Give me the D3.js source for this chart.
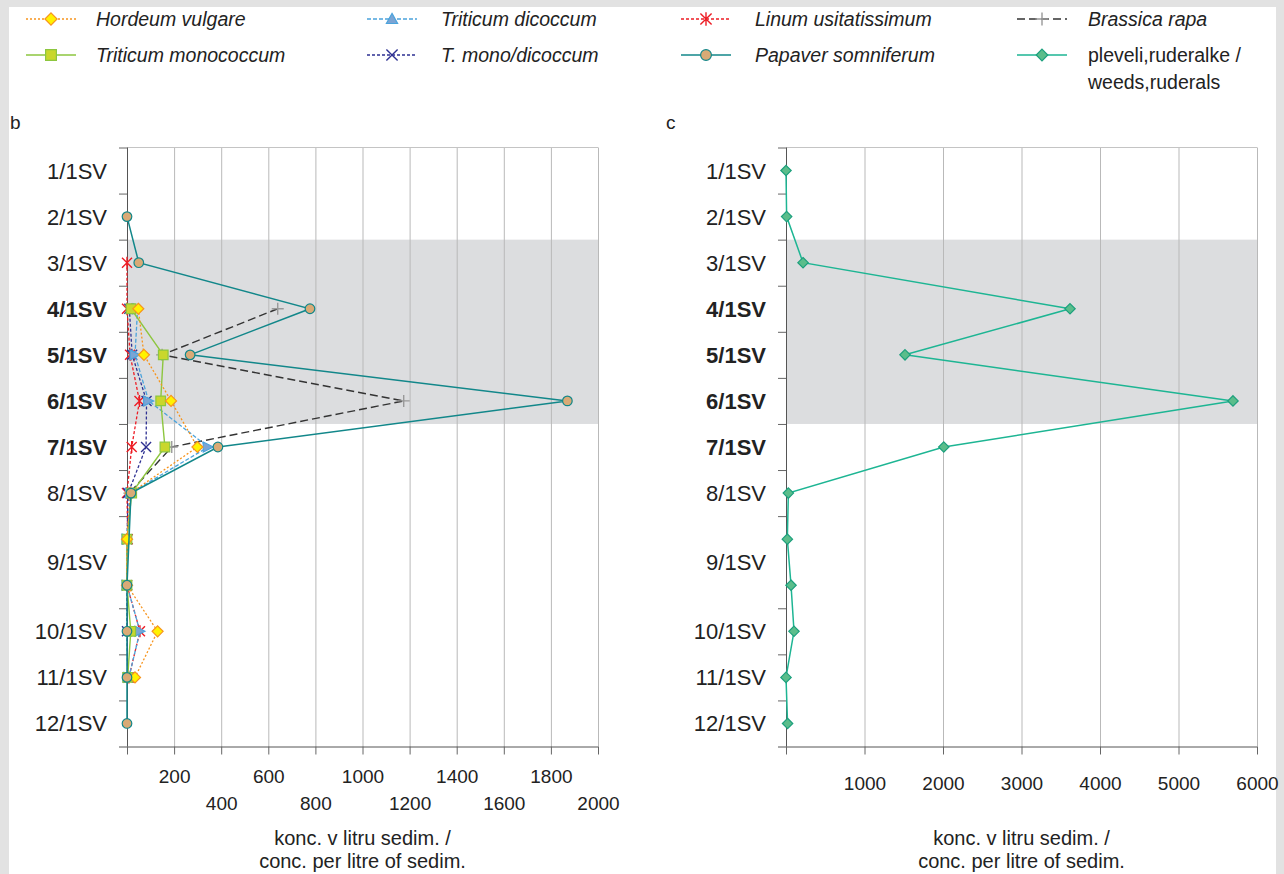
<!DOCTYPE html>
<html>
<head>
<meta charset="utf-8">
<script src="https://cdn.jsdelivr.net/npm/d3@7"></script>
<style>
  body { margin: 0; background: #e2e2e2; }
  svg { display: block; font-family: "Liberation Sans", Arial, sans-serif; }
</style>
</head>
<body>
<svg id="chart" width="1284" height="874"></svg>
<script>
// samples (top to bottom); 9/1SV was taken as two sub-samples
const samples = ["1/1SV", "2/1SV", "3/1SV", "4/1SV", "5/1SV", "6/1SV", "7/1SV", "8/1SV", "9/1SV", "10/1SV", "11/1SV", "12/1SV"];
const subSamples = [1, 1, 1, 1, 1, 1, 1, 1, 2, 1, 1, 1];
const boldSamples = ["4/1SV", "5/1SV", "6/1SV", "7/1SV"];
const shadedSamples = ["3/1SV", "6/1SV"]; // first and last of the grey band

// values per sub-sample row (13 rows), null = no value
const hordeum    = [null, null, null,  48,  72,  187, 299, 15,    0, 0, 130, 34, null];
const monococcum = [null, null, null,  17, 154,  143, 161, 20,    0, 0,  16,  3, null];
const dicoccum   = [null, null, null,  45,  34,   92, 345, 15,    0, 0,  55,  8, null];
const monoDic    = [null, null, null,  10,  22,   83,  81,  5,    0, 0,   0,  3, null];
const linum      = [null, null,    0,   0,  13,   53,  20,  0,    3, 0,  55,  8, null];
const papaver    = [null,    0,   50, 777, 268, 1870, 386, 17, null, 0,   0,  0,    0];
const brassica   = [null, null, null, 640, 149, 1175, 190, 10, null, null, null, null, null];
const weeds      = [0, 8, 217, 3618, 1516, 5694, 2010, 30, 17, 64, 102, 0, 20];

const leftTicks = [0, 200, 400, 600, 800, 1000, 1200, 1400, 1600, 1800, 2000];
const rightTicks = [0, 1000, 2000, 3000, 4000, 5000, 6000];

const seriesNames = {
  hordeum: "Hordeum vulgare",
  monococcum: "Triticum monococcum",
  dicoccum: "Triticum dicoccum",
  monoDic: "T. mono/dicoccum",
  linum: "Linum usitatissimum",
  papaver: "Papaver somniferum",
  brassica: "Brassica rapa",
  weeds: "pleveli,ruderalke /|weeds,ruderals"
};

const styles = {
  hordeum:    { line: "#f7941d", width: 1.3, dash: "2,2", marker: "diamond", legendMarker: "diamond", size: 5.5, fill: "#fff200", stroke: "#f7941d" },
  monococcum: { line: "#8dc63f", width: 1.4, dash: null,  marker: "square",  legendMarker: "square",  size: 4.8, fill: "#c9d72c", stroke: "#8dc63f" },
  dicoccum:   { line: "#4ba3dc", width: 1.3, dash: "4,2", marker: "triRight", legendMarker: "triUp", size: 5, fill: "#7ba4d4", stroke: "#4ba3dc" },
  monoDic:    { line: "#2e3192", width: 1.3, dash: "3,2", marker: "cross",   legendMarker: "cross",   size: 5, fill: "none", stroke: "#2e3192" },
  linum:      { line: "#ed1c24", width: 1.3, dash: "3,2", marker: "star",    legendMarker: "star",    size: 5, fill: "none", stroke: "#ed1c24" },
  papaver:    { line: "#12878a", width: 1.5, dash: null,  marker: "circle",  legendMarker: "circle",  size: 4.8, fill: "#d9aa76", stroke: "#12878a" },
  brassica:   { line: "#333333", width: 1.4, dash: "8,4", marker: "plus",    legendMarker: "plus",    size: 6, fill: "none", stroke: "#999999" },
  weeds:      { line: "#1db593", width: 1.5, dash: null,  marker: "diamond", legendMarker: "diamond", size: 5.2, fill: "#5bbd8b", stroke: "#1ca07d" }
};

const seriesData = { hordeum, monococcum, dicoccum, monoDic, linum, papaver, brassica, weeds };
const leftOrder = ["brassica", "linum", "monoDic", "dicoccum", "monococcum", "hordeum", "papaver"];

function markerPath(type, s) {
  switch (type) {
    case "diamond": return `M0,${-s}L${s},0L0,${s}L${-s},0Z`;
    case "square": return `M${-s},${-s}H${s}V${s}H${-s}Z`;
    case "triRight": return `M${-s},${-s}L${s},0L${-s},${s}Z`;
    case "triUp": return `M0,${-s}L${s},${s * 0.8}L${-s},${s * 0.8}Z`;
    case "cross": return `M${-s},${-s}L${s},${s}M${s},${-s}L${-s},${s}`;
    case "star": return `M${-s},${-s}L${s},${s}M${s},${-s}L${-s},${s}M0,${-s * 1.2}V${s * 1.2}`;
    case "plus": return `M${-s},0H${s}M0,${-s}V${s}`;
    case "circle": return `M${-s},0A${s},${s} 0 1,0 ${s},0A${s},${s} 0 1,0 ${-s},0Z`;
  }
}

const svg = d3.select("#chart");
svg.append("rect").attr("x", 9).attr("y", 7).attr("width", 1267).attr("height", 874).attr("fill", "#fff");

const plotTop = 147.5, plotBottom = 746.5;
const rowCount = d3.sum(subSamples);
const y = d3.scaleLinear().domain([-0.5, rowCount - 0.5]).range([plotTop, plotBottom]);

// sub-sample row ranges for each sample
let acc = 0;
const sampleRows = samples.map((s, i) => {
  const r = { name: s, start: acc, end: acc + subSamples[i] - 1 };
  acc += subSamples[i];
  return r;
});

function drawPanel(opts) {
  const { x, ticks, letter, letterX, twoRows, keys } = opts;
  const [x0, x1] = x.range();
  const g = svg.append("g");

  // grey band
  const a = sampleRows.find(r => r.name === shadedSamples[0]);
  const b = sampleRows.find(r => r.name === shadedSamples[1]);
  g.append("rect")
    .attr("x", x0).attr("y", y(a.start - 0.5))
    .attr("width", x1 - x0).attr("height", y(b.end + 0.5) - y(a.start - 0.5))
    .attr("fill", "#dcdddf");

  // vertical grid
  g.append("g")
    .attr("transform", `translate(0,${plotBottom})`)
    .call(d3.axisBottom(x).tickValues(ticks.slice(1)).tickSize(-(plotBottom - plotTop)).tickFormat(""))
    .call(s => s.select(".domain").remove())
    .selectAll("line").attr("stroke", "#b9b9b9");
  g.append("line").attr("x1", x0).attr("x2", x1).attr("y1", plotTop).attr("y2", plotTop).attr("stroke", "#c4c4c4");

  // x axis
  const xa = g.append("g")
    .attr("transform", `translate(0,${plotBottom})`)
    .call(d3.axisBottom(x).tickValues(ticks).tickSize(8).tickFormat(d => d === 0 ? "" : d));
  xa.select(".domain").attr("d", `M${x0 - 8},0.5H${x1}`).attr("stroke", "#555");
  xa.selectAll("line").attr("stroke", "#666");
  xa.selectAll("text")
    .attr("font-size", 19).attr("fill", "#222").attr("font-family", "Liberation Sans, Arial, sans-serif")
    .attr("dy", null)
    .attr("y", (d, i) => twoRows ? (i % 2 === 1 ? 36 : 63) : 43);

  // axis title
  const cx = (x0 + x1) / 2;
  g.append("text").attr("x", cx).attr("y", 845).attr("text-anchor", "middle")
    .attr("font-size", 20).attr("fill", "#222").text("konc. v litru sedim. /");
  g.append("text").attr("x", cx).attr("y", 868).attr("text-anchor", "middle")
    .attr("font-size", 20).attr("fill", "#222").text("conc. per litre of sedim.");

  // y axis: ticks between samples
  const bounds = [-0.5].concat(sampleRows.slice(0, -1).map(r => r.end + 0.5));
  const ya = g.append("g")
    .attr("transform", `translate(${x0},0)`)
    .call(d3.axisLeft(y).tickValues(bounds).tickSize(8).tickFormat(""));
  ya.select(".domain").attr("d", `M0.5,${plotTop}V${plotBottom}`).attr("stroke", "#555");
  ya.selectAll("line").attr("stroke", "#666");

  g.selectAll("text.ylab")
    .data(sampleRows)
    .enter().append("text")
    .attr("class", "ylab")
    .attr("x", x0 - 20)
    .attr("y", r => y((r.start + r.end) / 2) + 8)
    .attr("text-anchor", "end")
    .attr("font-size", 22)
    .attr("font-weight", r => boldSamples.includes(r.name) ? "bold" : "normal")
    .attr("fill", "#222")
    .text(r => r.name);

  g.append("text").attr("x", letterX).attr("y", 129).attr("font-size", 19).attr("fill", "#222").text(letter);

  // series
  keys.forEach(key => {
    const st = styles[key];
    const pts = seriesData[key].map((v, i) => ({ v, i })).filter(d => d.v !== null);
    const line = d3.line().x(d => x(d.v)).y(d => y(d.i));
    g.append("path").datum(pts)
      .attr("d", line)
      .attr("fill", "none")
      .attr("stroke", st.line)
      .attr("stroke-width", st.width)
      .attr("stroke-dasharray", st.dash);
    g.selectAll(null).data(pts).enter().append("path")
      .attr("transform", d => `translate(${x(d.v)},${y(d.i)})`)
      .attr("d", markerPath(st.marker, st.size))
      .attr("fill", st.fill)
      .attr("stroke", st.stroke)
      .attr("stroke-width", st.fill === "none" ? 1.4 : 1.2);
  });
}

drawPanel({
  x: d3.scaleLinear().domain([0, 2000]).range([127, 598]),
  ticks: leftTicks, letter: "b", letterX: 10, twoRows: true, keys: leftOrder
});
drawPanel({
  x: d3.scaleLinear().domain([0, 6000]).range([786, 1257]),
  ticks: rightTicks, letter: "c", letterX: 666, twoRows: false, keys: ["weeds"]
});

// legend (4 columns x 2 rows)
const legendCols = [["hordeum", "monococcum"], ["dicoccum", "monoDic"], ["linum", "papaver"], ["brassica", "weeds"]];
const colMarkerX = [51, 392, 706, 1042];
const colTextX = [96, 441, 755, 1088];
const rowY = [19, 55];
const legend = svg.append("g");
legendCols.forEach((col, ci) => {
  col.forEach((key, ri) => {
    const st = styles[key];
    const cy = rowY[ri];
    const mx = colMarkerX[ci];
    legend.append("line")
      .attr("x1", mx - 25).attr("x2", mx + 25).attr("y1", cy).attr("y2", cy)
      .attr("stroke", st.line).attr("stroke-width", st.width).attr("stroke-dasharray", st.dash);
    legend.append("path")
      .attr("transform", `translate(${mx},${cy})`)
      .attr("d", markerPath(st.legendMarker, st.size + 0.6))
      .attr("fill", st.fill).attr("stroke", st.stroke)
      .attr("stroke-width", st.fill === "none" ? 1.4 : 1.2);
    const lines = seriesNames[key].split("|");
    lines.forEach((t, li) => {
      legend.append("text")
        .attr("x", colTextX[ci]).attr("y", cy + 7 + li * 27)
        .attr("font-size", 19.5)
        .attr("font-style", key === "weeds" ? "normal" : "italic")
        .attr("fill", "#222")
        .text(t);
    });
  });
});
</script>
</body>
</html>
